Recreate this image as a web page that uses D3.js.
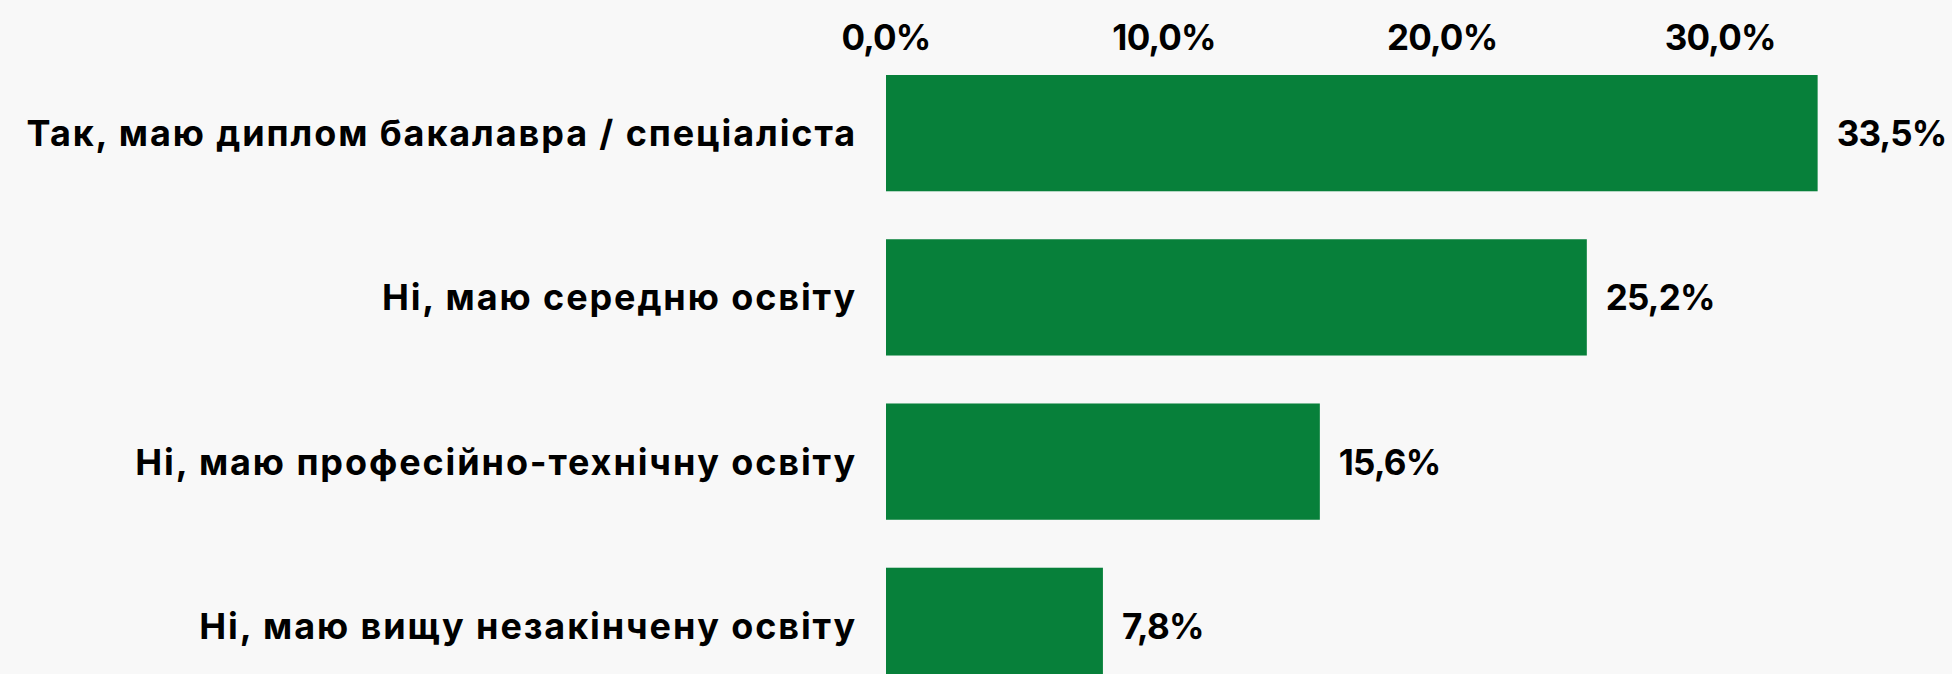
<!DOCTYPE html>
<html>
<head>
<meta charset="utf-8">
<script src="https://cdn.jsdelivr.net/npm/d3@7"></script>
<style>
  html, body { margin: 0; padding: 0; background: #f8f8f8; overflow: hidden; }
  svg { display: block; }
  text { font-family: Inter, "Open Sans", sans-serif; font-weight: 700; fill: #000; }
</style>
</head>
<body>
<svg width="1952" height="674"></svg>
<script>
// data
const categories = [
    "Так, маю диплом бакалавра / спеціаліста",
    "Ні, маю середню освіту",
    "Ні, маю професійно-технічну освіту",
    "Ні, маю вищу незакінчену освіту"
];
const values = [33.5, 25.2, 15.6, 7.8];
const ticks = [0, 10, 20, 30];

const svg = d3.select("svg"),
    width = +svg.attr("width"),
    height = +svg.attr("height");

const fmt = v => d3.format(".1f")(v).replace(".", ",") + "%";

// scales
const x = d3.scaleLinear().domain([0, 10]).range([886, 1164.1]);
const y = d3.scaleBand().domain(categories).range([75, 684]).paddingInner(0.292).paddingOuter(0);

// top axis labels
svg.append("g")
    .selectAll("text")
    .data(ticks)
    .enter()
    .append("text")
    .attr("x", d => x(d))
    .attr("y", 37)
    .attr("text-anchor", "middle")
    .attr("dominant-baseline", "central")
    .style("font-size", "35px")
    .style("letter-spacing", "-0.8px")
    .text(d => fmt(d));

// bars
svg.append("g")
    .selectAll("rect")
    .data(values)
    .enter()
    .append("rect")
    .attr("x", x(0))
    .attr("y", (d, i) => y(categories[i]))
    .attr("width", d => x(d) - x(0))
    .attr("height", y.bandwidth())
    .attr("fill", "#07803a");

// category labels
svg.append("g")
    .selectAll("text")
    .data(categories)
    .enter()
    .append("text")
    .attr("x", x(0) - 29)
    .attr("y", d => y(d) + y.bandwidth() / 2)
    .attr("text-anchor", "end")
    .attr("dominant-baseline", "central")
    .style("font-size", "36px")
    .style("letter-spacing", "1.9px")
    .text(d => d);

// value labels
svg.append("g")
    .selectAll("text")
    .data(values)
    .enter()
    .append("text")
    .attr("x", d => x(d) + 19)
    .attr("y", (d, i) => y(categories[i]) + y.bandwidth() / 2)
    .attr("dominant-baseline", "central")
    .style("font-size", "35px")
    .style("letter-spacing", "-0.8px")
    .text(d => fmt(d));
</script>
</body>
</html>
